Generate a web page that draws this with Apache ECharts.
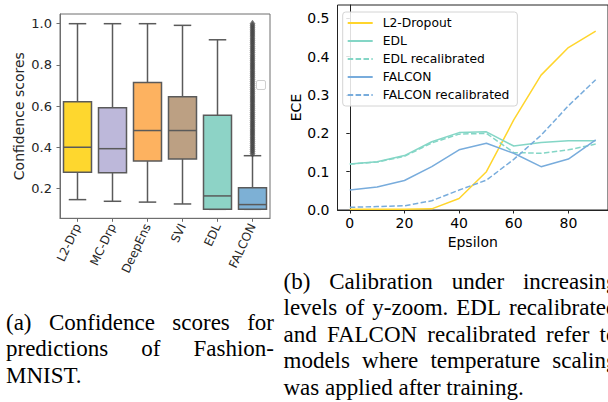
<!DOCTYPE html>
<html>
<head>
<meta charset="utf-8">
<script src="https://cdn.jsdelivr.net/npm/echarts@6/dist/echarts.min.js"></script>
<style>
  html, body { margin: 0; padding: 0; background: #fff; }
  #chart { width: 608px; height: 402px; }
</style>
</head>
<body>
<div id="chart"></div>
<script>
// ---------- (a) box plot data ----------
const categories = ['L2-Drp', 'MC-Drp', 'DeepEns', 'SVI', 'EDL', 'FALCON'];
const whiskerLow  = [0.147, 0.139, 0.135, 0.126, 0.100, 0.100];
const q1          = [0.280, 0.277, 0.334, 0.344, 0.100, 0.100];
const median      = [0.401, 0.394, 0.482, 0.482, 0.165, 0.123];
const q3          = [0.621, 0.592, 0.715, 0.646, 0.556, 0.205];
const whiskerHigh = [1.000, 1.000, 1.000, 0.992, 0.922, 0.360];
const falconOutliers = [0.37, 0.38, 0.39, 0.40, 0.41, 0.42, 0.43, 0.44, 0.45, 0.46,
  0.47, 0.48, 0.49, 0.50, 0.51, 0.52, 0.53, 0.54, 0.55, 0.56, 0.57, 0.58, 0.59, 0.60,
  0.61, 0.62, 0.63, 0.64, 0.65, 0.66, 0.67, 0.68, 0.69, 0.70, 0.71, 0.72, 0.73, 0.74,
  0.75, 0.76, 0.77, 0.78, 0.79, 0.80, 0.81, 0.82, 0.83, 0.84, 0.85, 0.86, 0.87, 0.88,
  0.89, 0.90, 0.91, 0.92, 0.93, 0.94, 0.95, 0.96, 0.97, 0.98, 0.99, 1.00];
const boxTicks = [0.2, 0.4, 0.6, 0.8, 1.0];

// ---------- (b) ECE line data ----------
const epsilon     = [0, 10, 20, 30, 40, 50, 60, 70, 80, 90];
const l2Dropout   = [0.002, 0.002, 0.002, 0.003, 0.030, 0.100, 0.235, 0.352, 0.424, 0.467];
const edl         = [0.120, 0.126, 0.142, 0.178, 0.202, 0.204, 0.167, 0.176, 0.181, 0.181];
const edlRecal    = [0.120, 0.125, 0.140, 0.175, 0.198, 0.200, 0.150, 0.148, 0.157, 0.172];
const falcon      = [0.052, 0.060, 0.077, 0.113, 0.157, 0.174, 0.148, 0.113, 0.133, 0.183];
const falconRecal = [0.007, 0.009, 0.011, 0.024, 0.052, 0.078, 0.132, 0.195, 0.272, 0.340];
const eceTicks = [0, 0.1, 0.2, 0.3, 0.4, 0.5];
const epsTicks = [0, 20, 40, 60, 80];
const lineNames = ['L2-Dropout', 'EDL', 'EDL recalibrated', 'FALCON', 'FALCON recalibrated'];

// ---------- captions ----------
const captionA = ['(a) Confidence scores for', 'predictions of Fashion-', 'MNIST.'];
const captionB = ['(b) Calibration under increasing', 'levels of y-zoom. EDL recalibrated',
  'and FALCON recalibrated refer to', 'models where temperature scaling', 'was applied after training.'];

// ---------- styles ----------
const boxColors = ['#FED72E', '#BDB8DA', '#FDB260', '#BCA083', '#8DD3C6', '#7DB0D5'];
const boxEdge = '#5a5a5a';
const cYellow = '#FFD52C', cTeal = '#84D6C6', cBlue = '#78ACDC';
const capFont = '23px "Liberation Serif"';
const sansFont = 'DejaVu Sans';

const chart = echarts.init(document.getElementById('chart'), null, { renderer: 'svg' });

// justified caption words
const mctx = document.createElement('canvas').getContext('2d');
mctx.font = capFont;
function captionWords(lines, x0, width, baseline0, lineStep) {
  const out = [];
  lines.forEach((line, li) => {
    const words = line.split(' ');
    const widths = words.map(w => mctx.measureText(w).width);
    const total = widths.reduce((a, b) => a + b, 0);
    const last = li === lines.length - 1;
    const gap = (!last && words.length > 1) ? (width - total) / (words.length - 1) : mctx.measureText(' ').width;
    let x = x0;
    words.forEach((w, wi) => {
      out.push({
        type: 'text', x: x, y: baseline0 + li * lineStep - 7.8, silent: true,
        style: { text: w, font: capFont, fill: '#000', align: 'left', verticalAlign: 'middle' }
      });
      x += widths[wi] + gap;
    });
  });
  return out;
}

const boxData = categories.map((c, i) => [i, whiskerLow[i], q1[i], median[i], q3[i], whiskerHigh[i]]);

function renderBox(params, api) {
  const i = api.value(0);
  const band = api.size([1, 0])[0];
  const bw = band * 0.8, cw = band * 0.5;
  const cx = api.coord([i, 0])[0];
  const yLo = api.coord([i, api.value(1)])[1];
  const yQ1 = api.coord([i, api.value(2)])[1];
  const yMed = api.coord([i, api.value(3)])[1];
  const yQ3 = api.coord([i, api.value(4)])[1];
  const yHi = api.coord([i, api.value(5)])[1];
  const ls = { stroke: boxEdge, lineWidth: 1.5, fill: null };
  return {
    type: 'group',
    children: [
      { type: 'line', shape: { x1: cx, y1: yQ3, x2: cx, y2: yHi }, style: ls },
      { type: 'line', shape: { x1: cx, y1: yQ1, x2: cx, y2: yLo }, style: ls },
      { type: 'line', shape: { x1: cx - cw / 2, y1: yHi, x2: cx + cw / 2, y2: yHi }, style: ls },
      { type: 'line', shape: { x1: cx - cw / 2, y1: yLo, x2: cx + cw / 2, y2: yLo }, style: ls },
      { type: 'rect', shape: { x: cx - bw / 2, y: yQ3, width: bw, height: yQ1 - yQ3 },
        style: { fill: boxColors[params.dataIndex], stroke: boxEdge, lineWidth: 1.5 } },
      { type: 'line', shape: { x1: cx - bw / 2, y1: yMed, x2: cx + bw / 2, y2: yMed }, style: ls }
    ]
  };
}

function lineSeries(name, values, color, dashed) {
  return {
    name: name, type: 'line', xAxisIndex: 1, yAxisIndex: 1,
    data: epsilon.map((e, i) => [e, values[i]]),
    symbol: 'none', showSymbol: false, animation: false,
    lineStyle: { color: color, width: 1.5, type: dashed ? [5.5, 2.4] : 'solid' },
    itemStyle: { color: color }
  };
}

const option = {
  animation: false,
  textStyle: { fontFamily: sansFont },
  grid: [
    { left: 60, top: 14, width: 210, height: 204.3, show: true, borderColor: '#6e6e6e', borderWidth: 1, backgroundColor: 'transparent' },
    { left: 337.5, top: 5, width: 272.25, height: 205, show: true, borderColor: '#222', borderWidth: 1, backgroundColor: 'transparent' }
  ],
  xAxis: [
    {
      type: 'category', gridIndex: 0, data: categories, boundaryGap: true,
      axisLine: { show: true, lineStyle: { color: '#6e6e6e', width: 1 } },
      axisTick: { show: true, alignWithLabel: true, length: 3.5, lineStyle: { color: '#6e6e6e' } },
      axisLabel: { rotate: 65, fontSize: 12, color: '#262626', margin: 6, fontFamily: sansFont },
      splitLine: { show: false }
    },
    {
      type: 'value', gridIndex: 1, min: -4.5, max: 94.5,
      name: 'Epsilon', nameLocation: 'middle', nameGap: 23,
      nameTextStyle: { fontSize: 14, color: '#000', fontFamily: sansFont },
      axisLine: { show: true, lineStyle: { color: '#222', width: 1 } },
      axisTick: { show: true, length: 3.5, customValues: epsTicks, lineStyle: { color: '#222' } },
      axisLabel: { customValues: epsTicks, fontSize: 14, color: '#000', margin: 6, fontFamily: sansFont },
      splitLine: { show: false }
    }
  ],
  yAxis: [
    {
      type: 'value', gridIndex: 0, min: 0.0565, max: 1.047,
      name: 'Confidence scores', nameLocation: 'middle', nameGap: 34,
      nameTextStyle: { fontSize: 14, color: '#262626', fontFamily: sansFont },
      axisLine: { show: true, lineStyle: { color: '#6e6e6e', width: 1 } },
      axisTick: { show: true, length: 3.5, customValues: boxTicks, lineStyle: { color: '#6e6e6e' } },
      axisLabel: { customValues: boxTicks, fontSize: 13, color: '#262626', margin: 8,
        formatter: v => v.toFixed(1), fontFamily: sansFont },
      splitLine: { show: false }
    },
    {
      type: 'value', gridIndex: 1, min: 0, max: 0.535,
      name: 'ECE', nameLocation: 'middle', nameGap: 33,
      nameTextStyle: { fontSize: 14, color: '#000', fontFamily: sansFont },
      axisLine: { show: true, lineStyle: { color: '#222', width: 1 } },
      axisTick: { show: true, length: 3.5, customValues: eceTicks, lineStyle: { color: '#222' } },
      axisLabel: { customValues: eceTicks, fontSize: 14, color: '#000', margin: 8,
        formatter: v => v.toFixed(1), fontFamily: sansFont },
      splitLine: { show: false }
    }
  ],
  legend: {
    data: lineNames, orient: 'vertical', left: 342.7, top: 12,
    itemWidth: 25, itemHeight: 14, itemGap: 4,
    padding: [4, 8, 4, 4],
    itemStyle: { opacity: 0 },
    backgroundColor: 'rgba(255,255,255,0.85)', borderColor: '#d4d4d4', borderWidth: 1, borderRadius: 3,
    textStyle: { fontSize: 12.3, color: '#000', fontFamily: sansFont, padding: [0, 0, 0, 5], lineHeight: 14 }
  },
  series: [
    {
      type: 'custom', name: 'boxes', xAxisIndex: 0, yAxisIndex: 0,
      data: boxData, renderItem: renderBox, encode: { x: 0, y: [1, 2, 3, 4, 5] }, silent: true
    },
    {
      type: 'scatter', name: 'outliers', xAxisIndex: 0, yAxisIndex: 0,
      data: falconOutliers.map(v => [categories.indexOf('FALCON'), v]),
      symbol: 'diamond', symbolSize: [5, 7],
      itemStyle: { color: '#4e4e4e', borderColor: '#3e3e3e', borderWidth: 0.5 }, silent: true
    },
    lineSeries(lineNames[0], l2Dropout, cYellow, false),
    lineSeries(lineNames[1], edl, cTeal, false),
    lineSeries(lineNames[2], edlRecal, cTeal, true),
    lineSeries(lineNames[3], falcon, cBlue, false),
    lineSeries(lineNames[4], falconRecal, cBlue, true)
  ],
  graphic: [
    { type: 'rect', shape: { x: 256.5, y: 80.5, width: 9, height: 9, r: 1.5 },
      style: { fill: '#fff', stroke: '#cfcfcf', lineWidth: 1 }, silent: true },
    ...captionWords(captionA, 6, 268, 330, 26.6),
    ...captionWords(captionB, 283.5, 334, 289, 26.5)
  ]
};
chart.setOption(option);
</script>
</body>
</html>
